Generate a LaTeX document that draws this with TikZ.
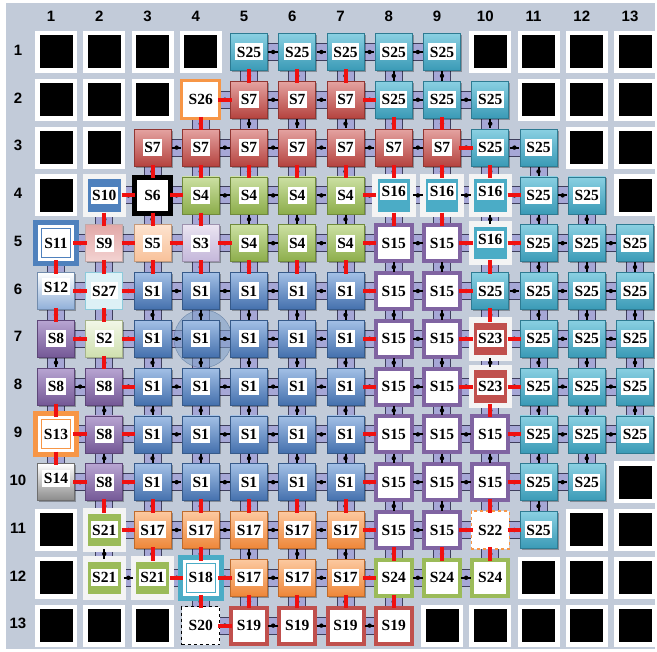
\documentclass[tikz,border=0pt]{standalone}
\usepackage{fontspec}
\setmainfont{Liberation Serif}
\newfontfamily\numfont{Liberation Sans}
\usetikzlibrary{calc,shadows}
\pgfdeclarelayer{bg}
\pgfsetlayers{bg,main}
\definecolor{bgc}{HTML}{C2CBD9}
\definecolor{lav}{HTML}{A6A7D6}
\definecolor{lavd}{HTML}{3E3E5C}
\definecolor{c25}{HTML}{4BACC6}
\definecolor{c25t}{HTML}{8AD0E2}
\definecolor{c25b}{HTML}{3A9AB6}
\definecolor{c7}{HTML}{C0504D}
\definecolor{c7t}{HTML}{E4A3A1}
\definecolor{c7b}{HTML}{B5433F}
\definecolor{c4}{HTML}{9BBB59}
\definecolor{c4t}{HTML}{CCE0A3}
\definecolor{c4b}{HTML}{8CAD4A}
\definecolor{c1}{HTML}{4F81BD}
\definecolor{c1t}{HTML}{A3C0E6}
\definecolor{c1b}{HTML}{4470AD}
\definecolor{c8}{HTML}{8064A2}
\definecolor{c8t}{HTML}{B8A5D2}
\definecolor{c8b}{HTML}{745896}
\definecolor{c17}{HTML}{F79646}
\definecolor{c17t}{HTML}{FCC9A0}
\definecolor{c17b}{HTML}{EE8638}
\definecolor{frmw}{HTML}{F4F4F4}
\definecolor{c12b}{HTML}{8FAFD8}
\definecolor{c27}{HTML}{DDF1F6}
\definecolor{c27d}{HTML}{8CCADB}
\definecolor{c9t}{HTML}{E2A9A8}
\definecolor{c9b}{HTML}{F3D3D2}
\definecolor{c5t}{HTML}{FDE3CF}
\definecolor{c5b}{HTML}{F8C199}
\definecolor{c3t}{HTML}{EAE4F1}
\definecolor{c3b}{HTML}{C4B7DA}
\definecolor{c2t}{HTML}{F2F7E8}
\definecolor{c2b}{HTML}{CFE0AE}
\definecolor{c14b}{HTML}{8A8A8A}
\definecolor{redc}{HTML}{F01010}
\def\isblackB{}
\begin{document}
\begin{tikzpicture}[x=1pt,y=1pt,
  cell/.style={rectangle,inner sep=0pt,minimum size=37pt},
  tB/.style={fill=black,draw=white,line width=4.5pt,minimum size=37.5pt},
  grad/.style 2 args={top color=#1,bottom color=#2,draw=#2!80!black,line width=.6pt,
    drop shadow={shadow xshift=1.5pt,shadow yshift=-1.5pt,opacity=.3,fill=black}},
  frm/.style={fill=#1,draw=frmw,line width=5.5pt,minimum size=38pt},
  bord/.style={fill=white,draw=#1,line width=4pt,minimum size=36pt},
  dbl/.style={fill=white,draw=#1,line width=5pt,minimum size=41pt,
    path picture={\draw[#1,line width=1pt]
      ([shift={(6pt,6pt)}]path picture bounding box.south west) rectangle
      ([shift={(-6pt,-6pt)}]path picture bounding box.north east);}},
  tS25/.style={grad={c25t}{c25b}},
  tS7/.style={grad={c7t}{c7b}},
  tS4/.style={grad={c4t}{c4b}},
  tS1/.style={grad={c1t}{c1b}},
  tS8/.style={grad={c8t}{c8b}},
  tS17/.style={grad={c17t}{c17b}},
  tS12/.style={grad={white}{c12b}},
  tS9/.style={grad={c9t}{c9b}},
  tS5/.style={grad={c5t}{c5b}},
  tS3/.style={grad={c3t}{c3b}},
  tS2/.style={grad={c2t}{c2b}},
  tS14/.style={grad={white}{c14b}},
  tS27/.style={fill=c27,draw=c27d,line width=1pt},
  tS16/.style={frm=c25},
  tS23/.style={frm=c7},
  tS21/.style={frm=c4},
  tS10/.style={frm=c1},
  tS15/.style={bord=c8},
  tS19/.style={bord=c7},
  tS24/.style={bord=c4},
  tS6/.style={bord=black,line width=4.5pt},
  tS26/.style={bord=c17,line width=3pt,minimum size=38pt},
  tS11/.style={dbl=c1},
  tS13/.style={dbl=c17},
  tS18/.style={dbl=c25},
  tS20/.style={fill=white,draw=black,dashed,line width=1.2pt,minimum size=38pt},
  tS22/.style={fill=white,draw=c17,dashed,line width=1.5pt,minimum size=38pt},
  lbl/.style={fill=white,inner xsep=1.5pt,inner ysep=1.5pt,minimum height=17pt,
    font=\fontsize{15.5}{15.5}\selectfont\bfseries},
  lS16/.style={yshift=4pt},
  lS12/.style={yshift=4pt},
  lS14/.style={yshift=4pt},
  linko/.style={draw=lavd,line width=18pt},
  linki/.style={draw=lav,line width=16pt},
  blk/.style={draw=black,line width=2pt},
  redbar/.style={draw=redc,line width=4pt},
  numlab/.style={font=\numfont\bfseries\fontsize{15}{15}\selectfont,inner sep=1pt}
]
\useasboundingbox (0,0) rectangle (657,652);
\begin{pgfonlayer}{bg}
\fill[white] (0,0) rectangle (657,652);
\fill[bgc] (6,3) rectangle (655,649);
\end{pgfonlayer}
% highlight circle
\fill[fill=c1!60!bgc,opacity=.55,draw=c1!70!black] (203,313.2) circle[radius=29];
% cells
\foreach \r/\row in {
1/{B,B,B,B,S25,S25,S25,S25,S25,B,B,B,B},
2/{B,B,B,S26,S7,S7,S7,S25,S25,S25,B,B,B},
3/{B,B,S7,S7,S7,S7,S7,S7,S7,S25,S25,B,B},
4/{B,S10,S6,S4,S4,S4,S4,S16,S16,S16,S25,S25,B},
5/{S11,S9,S5,S3,S4,S4,S4,S15,S15,S16,S25,S25,S25},
6/{S12,S27,S1,S1,S1,S1,S1,S15,S15,S25,S25,S25,S25},
7/{S8,S2,S1,S1,S1,S1,S1,S15,S15,S23,S25,S25,S25},
8/{S8,S8,S1,S1,S1,S1,S1,S15,S15,S23,S25,S25,S25},
9/{S13,S8,S1,S1,S1,S1,S1,S15,S15,S15,S25,S25,S25},
10/{S14,S8,S1,S1,S1,S1,S1,S15,S15,S15,S25,S25,B},
11/{B,S21,S17,S17,S17,S17,S17,S15,S15,S22,S25,B,B},
12/{B,S21,S21,S18,S17,S17,S17,S24,S24,S24,B,B,B},
13/{B,B,B,S20,S19,S19,S19,S19,B,B,B,B,B}}{
  \foreach \t [count=\c] in \row {
    \pgfmathsetmacro\x{56+(\c-1)*48.25}
    \pgfmathsetmacro\y{600-(\r-1)*47.8}
    \ifcsname isblack\t\endcsname
      \expandafter\xdef\csname K\r-\c\endcsname{0}
      \edef\tmp{\noexpand\node[cell,tB] (n\r-\c) at (\x,\y) {};}\tmp
    \else
      \expandafter\xdef\csname K\r-\c\endcsname{1}
      \edef\tmp{\noexpand\node[cell,t\t] (n\r-\c) at (\x,\y) {};
        \noexpand\node[lbl,l\t/.try] (L\r-\c) at (n\r-\c) {\t};}\tmp
    \fi
  }
}
% links
\begin{pgfonlayer}{bg}
\foreach \r in {1,...,13}{\foreach \c in {1,...,12}{
  \pgfmathtruncatemacro\cn{\c+1}
  \ifnum\csname K\r-\c\endcsname\csname K\r-\cn\endcsname=11
    \draw[linko] (n\r-\c.center) -- (n\r-\cn.center);
    \draw[linki] (n\r-\c.center) -- (n\r-\cn.center);
  \fi}}
\foreach \r in {1,...,12}{\foreach \c in {1,...,13}{
  \pgfmathtruncatemacro\rn{\r+1}
  \ifnum\csname K\r-\c\endcsname\csname K\rn-\c\endcsname=11
    \draw[linko] (n\r-\c.center) -- (n\rn-\c.center);
    \draw[linki] (n\r-\c.center) -- (n\rn-\c.center);
  \fi}}
\end{pgfonlayer}
% black marks
\foreach \r in {1,...,13}{\foreach \c in {1,...,12}{
  \pgfmathtruncatemacro\cn{\c+1}
  \ifnum\csname K\r-\c\endcsname\csname K\r-\cn\endcsname=11
    \draw[blk] ($(n\r-\c)!0.4!(n\r-\cn)$) -- ($(n\r-\c)!0.6!(n\r-\cn)$);
    \fill ($(n\r-\c)!0.5!(n\r-\cn)$) circle[radius=2.2];
  \fi}}
\foreach \r in {1,...,12}{\foreach \c in {1,...,13}{
  \pgfmathtruncatemacro\rn{\r+1}
  \ifnum\csname K\r-\c\endcsname\csname K\rn-\c\endcsname=11
    \draw[blk] ($(n\r-\c)!0.4!(n\rn-\c)$) -- ($(n\r-\c)!0.6!(n\rn-\c)$);
    \fill ($(n\r-\c)!0.5!(n\rn-\c)$) circle[radius=2.2];
  \fi}}
% red connectors
\foreach \a/\b in {2-4/2-5,2-7/2-8,3-9/3-10,4-2/4-3,4-3/4-4,4-7/4-8,4-10/4-11,
  5-1/5-2,5-2/5-3,5-3/5-4,5-4/5-5,5-7/5-8,5-9/5-10,5-10/5-11,
  6-1/6-2,6-2/6-3,6-7/6-8,6-9/6-10,7-1/7-2,7-2/7-3,7-7/7-8,7-9/7-10,7-10/7-11,
  8-2/8-3,8-7/8-8,8-9/8-10,8-10/8-11,9-1/9-2,9-2/9-3,9-7/9-8,9-10/9-11,
  10-1/10-2,10-2/10-3,10-7/10-8,10-10/10-11,11-2/11-3,11-7/11-8,11-9/11-10,11-10/11-11,
  12-3/12-4,12-4/12-5,12-7/12-8,13-4/13-5,
  1-5/2-5,1-6/2-6,1-7/2-7,2-4/3-4,2-8/3-8,2-9/3-9,3-3/4-3,3-4/4-4,3-5/4-5,3-6/4-6,
  3-7/4-7,3-8/4-8,3-9/4-9,3-10/4-10,4-2/5-2,4-3/5-3,4-4/5-4,4-8/5-8,4-9/5-9,
  5-1/6-1,5-2/6-2,5-3/6-3,5-4/6-4,5-5/6-5,5-6/6-6,5-7/6-7,5-10/6-10,
  6-1/7-1,6-2/7-2,6-10/7-10,7-2/8-2,8-1/9-1,8-10/9-10,9-1/10-1,
  10-2/11-2,10-3/11-3,10-4/11-4,10-5/11-5,10-6/11-6,10-7/11-7,10-10/11-10,
  11-3/12-3,11-4/12-4,11-8/12-8,11-9/12-9,11-10/12-10,
  12-4/13-4,12-5/13-5,12-6/13-6,12-7/13-7,12-8/13-8}{
  \draw[redbar] ($(n\a)!0.36!(n\b)$) -- ($(n\a)!0.64!(n\b)$);
}
% axis numbers
\foreach \c in {1,...,13}{
  \pgfmathsetmacro\x{51+(\c-1)*48.25}
  \node[numlab] (C\c) at (\x,636) {\c};
}
\foreach \r in {1,...,13}{
  \pgfmathsetmacro\y{602-(\r-1)*47.8}
  \node[numlab] (R\r) at (18,\y) {\r};
}
\end{tikzpicture}
\end{document}
